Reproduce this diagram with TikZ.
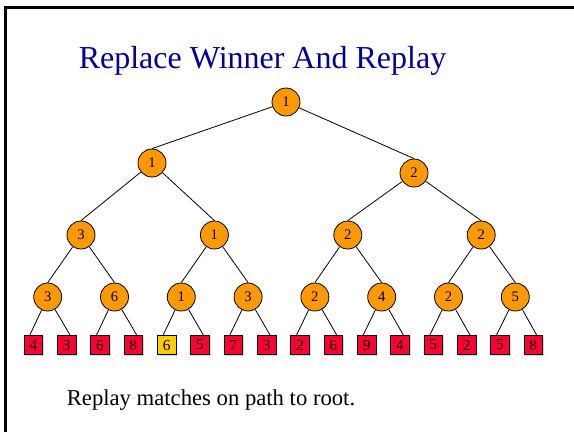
\documentclass[tikz,border=0pt]{standalone}
\usepackage{fontspec}
\setmainfont{Liberation Serif}
\usetikzlibrary{shadows}
\definecolor{titleblue}{RGB}{0,0,153}
\definecolor{tangerine}{RGB}{255,153,0}
\definecolor{leafred}{RGB}{255,0,51}
\definecolor{gold}{RGB}{255,204,0}

\begin{document}
\begin{tikzpicture}[x=0.75pt,y=-0.75pt,line width=0.6pt,
    player/.style={circle,draw,fill=tangerine,minimum size=21pt,inner sep=0pt,
      font=\fontsize{11}{11}\selectfont},
    leaf/.style={draw,minimum size=14pt,inner sep=0pt,font=\fontsize{11.5}{11.5}\selectfont,
      drop shadow={shadow xshift=1pt,shadow yshift=-1pt,opacity=0.35}}]
        \useasboundingbox (0,0) rectangle (574,432);
        \draw[line width=2.2pt] (5.5,432) -- (5.5,7.5) -- (574,7.5);
        \node[anchor=base,text=titleblue,font=\fontsize{24}{24}\selectfont] (title) at (262.5,68) {Replace Winner And Replay};
        % upper rounds
        \node[player] (r) at (286,102) {1};
        \node[player] (a1) at (152,163) {1};
        \node[player] (a2) at (414,173) {2};
        \foreach \v [count=\i] in {3,1,2,2}{
          \pgfmathsetmacro{\x}{81+133.4*(\i-1)}
          \node[player] (b\i) at (\x,235) {\v};
        }
        \foreach \v [count=\i] in {3,6,1,3,2,4,2,5}{
          \pgfmathsetmacro{\x}{47.7+66.8*(\i-1)}
          \node[player] (c\i) at (\x,297) {\v};
        }
        % players
        \foreach \v/\c [count=\i] in {4/leafred,3/leafred,6/leafred,8/leafred,6/gold,5/leafred,7/leafred,3/leafred,
          2/leafred,6/leafred,9/leafred,4/leafred,5/leafred,2/leafred,5/leafred,8/leafred}{
          \pgfmathsetmacro{\x}{33.3+33.33*(\i-1)}
          \node[leaf,fill=\c] (d\i) at (\x,345) {\v};
        }
        \draw (r) -- (a1.north);
        \draw (r) -- (a2.north);
        \draw (a1) -- (b1.north);
        \draw (a1) -- (b2.north);
        \draw (a2) -- (b3.north);
        \draw (a2) -- (b4.north);
        \foreach \i in {1,...,4}{
          \pgfmathtruncatemacro{\l}{2*\i-1}
          \pgfmathtruncatemacro{\r}{2*\i}
          \draw (b\i) -- (c\l.north);
          \draw (b\i) -- (c\r.north);
        }
        \foreach \i in {1,...,8}{
          \pgfmathtruncatemacro{\l}{2*\i-1}
          \pgfmathtruncatemacro{\r}{2*\i}
          \draw (c\i) -- (d\l.110);
          \draw (c\i) -- (d\r.70);
        }
        \node[anchor=base west,font=\fontsize{17}{17}\selectfont] (note) at (62,405) {Replay matches on path to root.};
      \end{tikzpicture}
\end{document}
